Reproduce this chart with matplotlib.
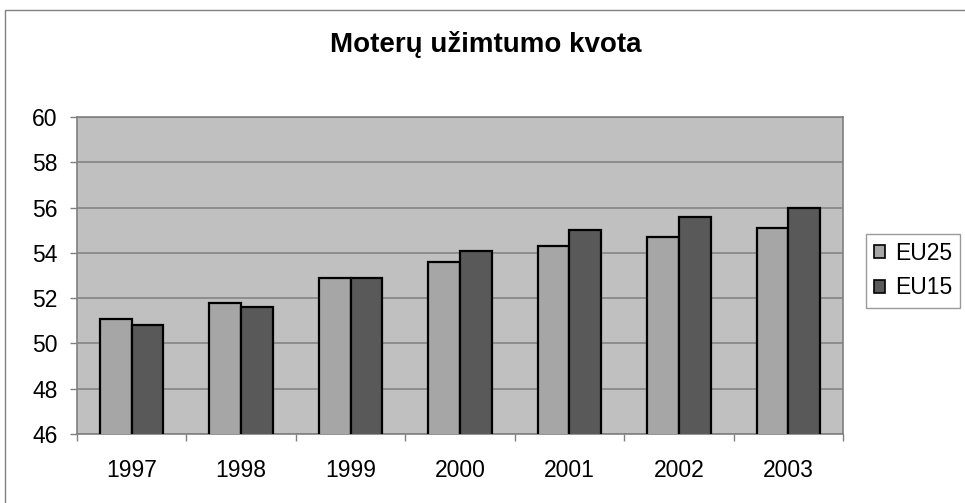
import numpy as np
import matplotlib
matplotlib.use("Agg")
import matplotlib.pyplot as plt
from matplotlib.patches import Rectangle, Patch

years = ["1997", "1998", "1999", "2000", "2001", "2002", "2003"]
eu25 = [51.1, 51.8, 52.9, 53.6, 54.3, 54.7, 55.1]
eu15 = [50.8, 51.6, 52.9, 54.1, 55.0, 55.6, 56.0]
series_names = ["EU25", "EU15"]
y_ticks = [46, 48, 50, 52, 54, 56, 58, 60]

plt.rcParams["font.family"] = ["Liberation Sans", "DejaVu Sans"]

W, H = 965, 503
fig = plt.figure(figsize=(W / 100, H / 100), dpi=100)

# chart area border (Excel style)
fig.patches.append(Rectangle((5 / W, -0.1), 1.2, 1 - 10 / H + 0.1,
                             transform=fig.transFigure, fill=False,
                             edgecolor="#808080", linewidth=1))

ax = fig.add_axes([77 / W, 1 - 434 / H, 766 / W, 317 / H])
ax.set_facecolor("#C0C0C0")

x = np.arange(len(years))
w = 0.29
ax.bar(x - w / 2, eu25, w, bottom=0, color="#A6A6A6", edgecolor="black",
       linewidth=1.6, label=series_names[0], zorder=3)
ax.bar(x + w / 2, eu15, w, bottom=0, color="#595959", edgecolor="black",
       linewidth=1.6, label=series_names[1], zorder=3)

ax.set_ylim(46, 60)
ax.set_xlim(-0.5, len(years) - 0.5)
ax.set_yticks(y_ticks)
ax.set_yticklabels([str(t) for t in y_ticks], fontsize=16.5)
ax.yaxis.grid(True, color="#808080", linewidth=1.1, zorder=1)
ax.set_axisbelow(True)

ax.set_xticks(x)
ax.set_xticklabels(years, fontsize=16.5)
ax.set_xticks(np.arange(len(years) + 1) - 0.5, minor=True)
ax.tick_params(axis="x", which="major", length=0, pad=18)
ax.tick_params(axis="x", which="minor", length=5, color="#808080", width=1)
ax.tick_params(axis="y", length=5, color="#808080", width=1, pad=9)

for s in ax.spines.values():
    s.set_color("#808080")
    s.set_linewidth(1.2)

fig.text(486 / W, 1 - 44 / H, "Moterų užimtumo kvota", ha="center",
         va="center", fontsize=20, fontweight="bold")

handles = [Patch(facecolor="#A6A6A6", edgecolor="black", linewidth=1.2),
           Patch(facecolor="#595959", edgecolor="black", linewidth=1.2)]
leg = fig.legend(handles, series_names, loc="upper left",
                 bbox_to_anchor=(866 / W, 1 - 234 / H), fontsize=16.5,
                 frameon=True, fancybox=False, handlelength=0.5,
                 handleheight=0.5, handletextpad=0.4, borderpad=0.35,
                 labelspacing=0.5, borderaxespad=0)
leg.get_frame().set_edgecolor("#808080")
leg.get_frame().set_linewidth(1)

fig.savefig("out.png", dpi=100)
